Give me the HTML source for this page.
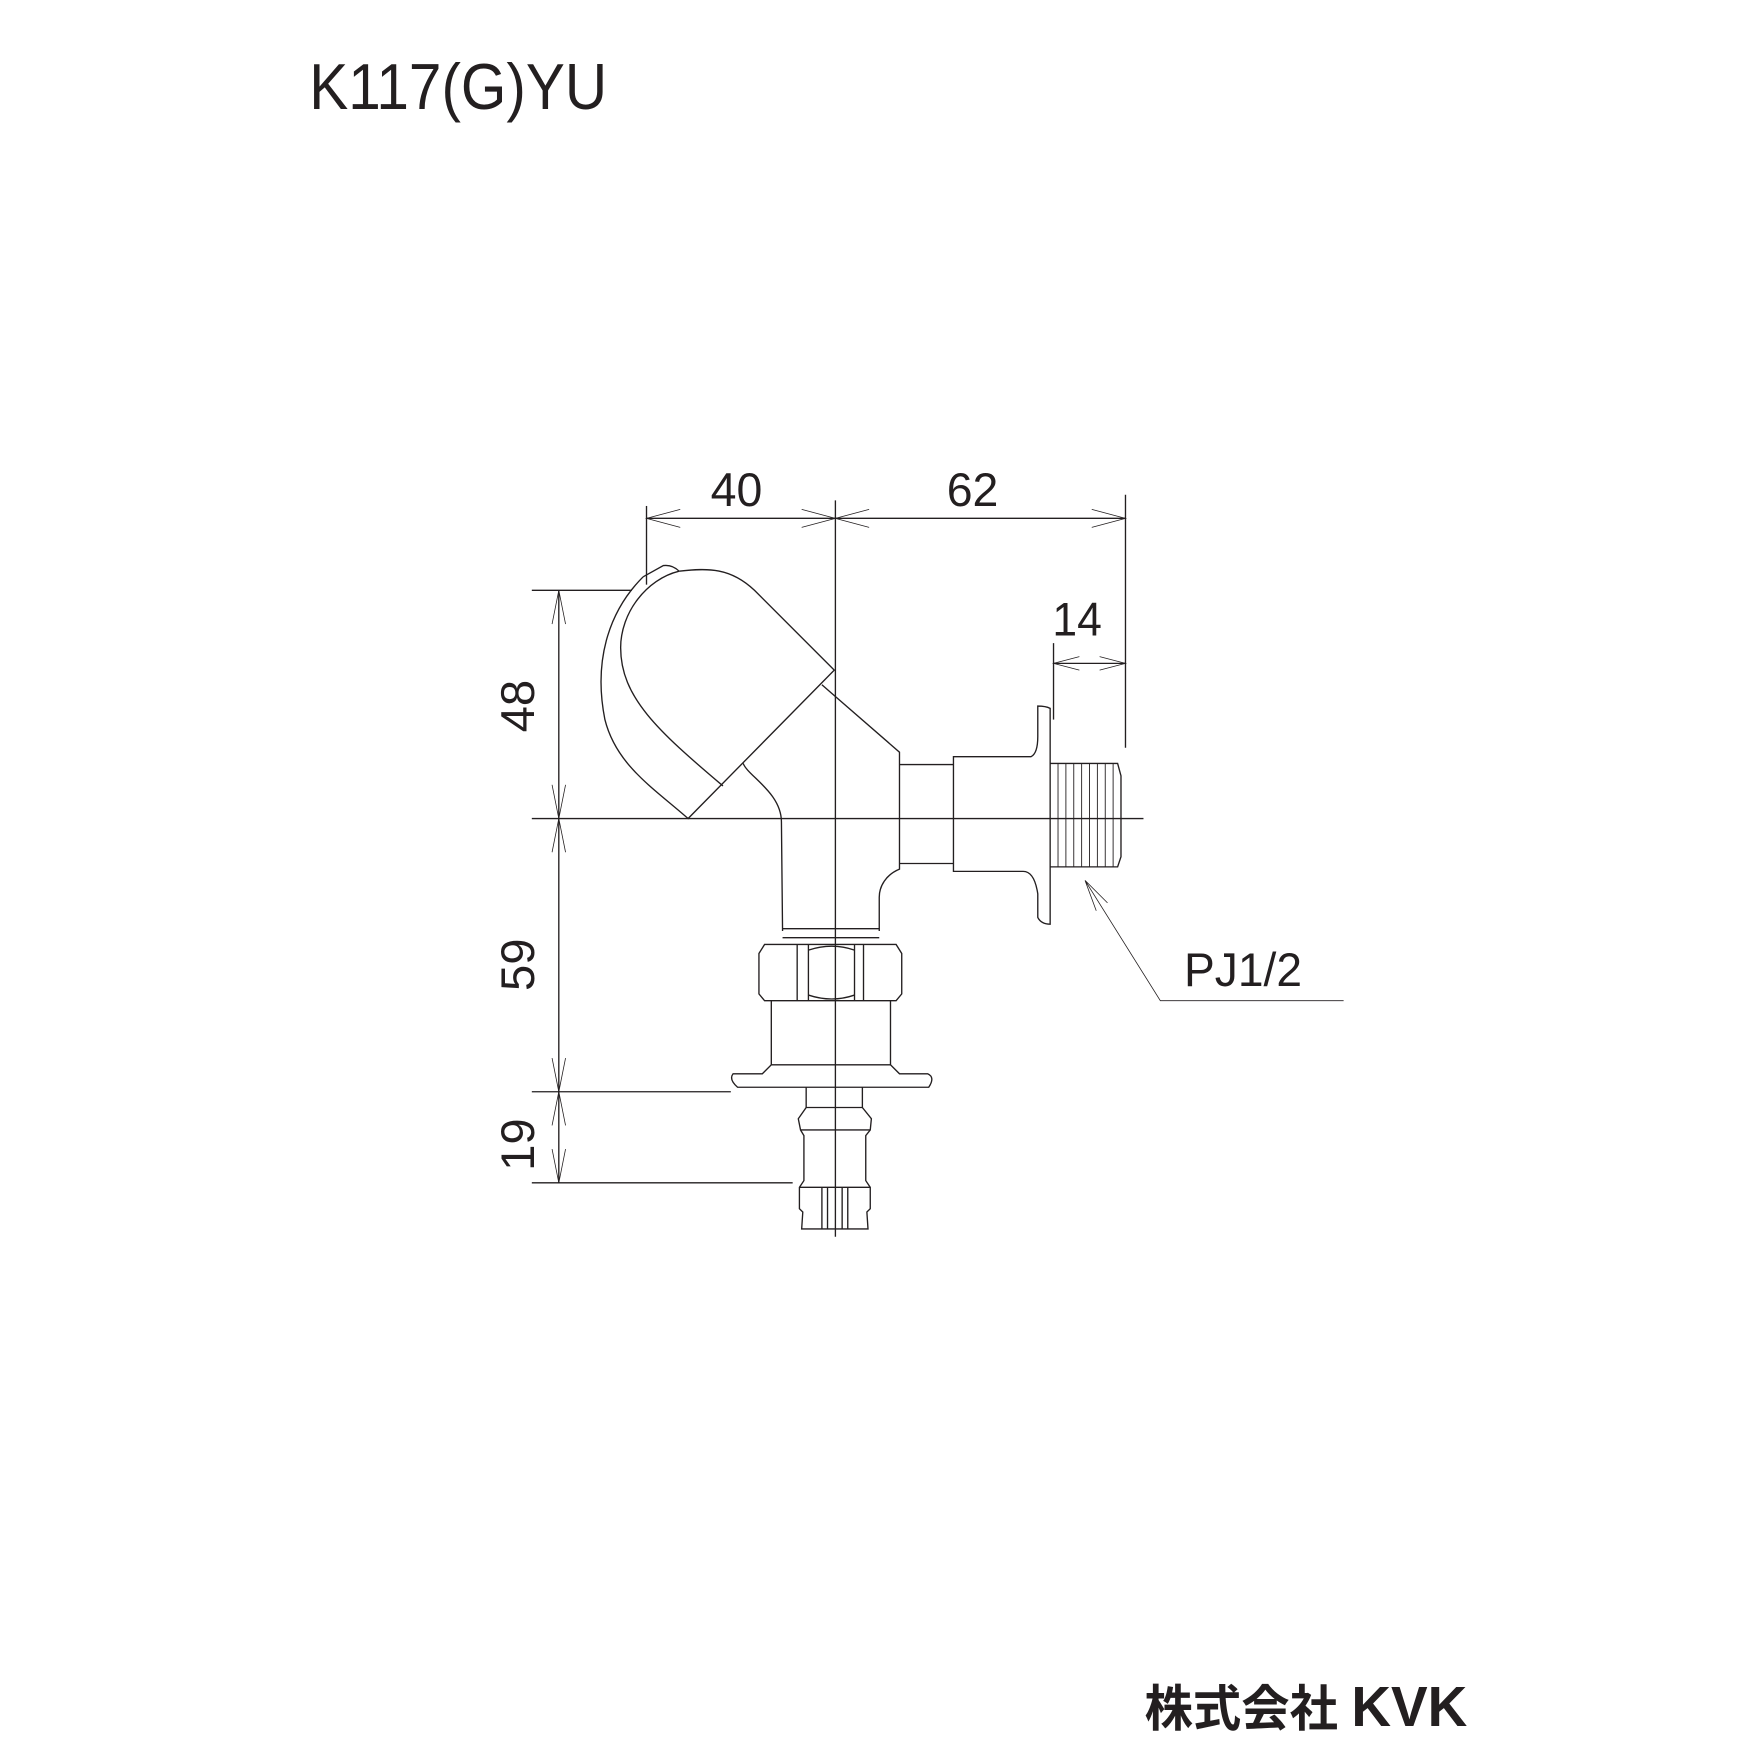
<!DOCTYPE html>
<html><head><meta charset="utf-8"><style>
html,body{margin:0;padding:0;background:#fff}
svg{display:block}
</style></head><body>
<svg width="1754" height="1754" viewBox="0 0 1560 1560" xmlns="http://www.w3.org/2000/svg">
<g font-family="'Liberation Sans', sans-serif" fill="#231f20">
<text x="275" y="97" font-size="58" textLength="265" lengthAdjust="spacingAndGlyphs">K117(G)YU</text>
<text x="632" y="450" font-size="42" textLength="46" lengthAdjust="spacingAndGlyphs">40</text>
<text x="842" y="450" font-size="42" textLength="46" lengthAdjust="spacingAndGlyphs">62</text>
<text x="936" y="565" font-size="42" textLength="44" lengthAdjust="spacingAndGlyphs">14</text>
<text x="1053" y="877" font-size="42" textLength="105" lengthAdjust="spacingAndGlyphs">PJ1/2</text>
<text transform="translate(475,628) rotate(-90)" font-size="42" text-anchor="middle">48</text>
<text transform="translate(475,858) rotate(-90)" font-size="42" text-anchor="middle">59</text>
<text transform="translate(475,1018) rotate(-90)" font-size="42" text-anchor="middle">19</text>
<text x="1018" y="1535" font-size="44" font-weight="bold" font-family="'Liberation Sans','Noto Sans CJK JP',sans-serif" textLength="287" lengthAdjust="spacingAndGlyphs">株式会社 <tspan font-size="50">KVK</tspan></text>
</g>
<g fill="none" stroke="#231f20" stroke-width="1.2">
<line x1="743" y1="445" x2="743" y2="1100"/>
<line x1="473" y1="728" x2="1017" y2="728"/>
<line x1="575" y1="461" x2="1001" y2="461"/>
<line x1="575" y1="450" x2="575" y2="520"/>
<line x1="1001" y1="440" x2="1001" y2="665"/>
<line x1="937" y1="590" x2="1001" y2="590"/>
<line x1="937" y1="572" x2="937" y2="640"/>
<line x1="497" y1="525" x2="497" y2="1052"/>
<line x1="473" y1="525" x2="562" y2="525"/>
<line x1="473" y1="971" x2="650" y2="971"/>
<line x1="473" y1="1052" x2="705" y2="1052"/>
<g stroke-width="0.7">
<path d="M605,453 L575,461 L605,469 M713,453 L743,461 L713,469 M773,453 L743,461 L773,469 M971,453 L1001,461 L971,469"/>
<path d="M960,584 L937,590 L960,596 M978,584 L1001,590 L978,596"/>
<path d="M491,555 L497,525 L503,555 M491,698 L497,728 L503,698 M491,758 L497,728 L503,758 M491,941 L497,971 L503,941 M491,1001 L497,971 L503,1001 M491,1022 L497,1052 L503,1022"/>
<path d="M1195,890 L1032,890 L965,783 M965,783 L975,810 M965,783 L985,803"/>
</g>
<path d="M572,513 L590,503 Q598,502 604,508"/>
<path d="M572,513 C540,545 528,590 538,640 C548,680 580,700 612,728 L742,596 L671,525 C650,505 630,505 604,508"/>
<path d="M604,508 C575,515 552,545 552,576 C552,620 585,650 643,699"/>
<path d="M731,609 L739,616 L800,669 L800,773 C788,778 782,788 782,798 L782,828"/>
<path d="M661,679 C665,690 695,705 695,731 L696,828"/>
<path d="M800,680 L848,680 M800,768 L848,768"/>
<path d="M848,673 L917,673 Q923,670 923,655 L923,628 Q930,628 934,630 L934,822 Q926,822 923,816 L923,795 Q920,775 910,775 L848,775 Z"/>
<path d="M934,679 L994,679 L997,690 L997,762 L994,771 L934,771"/>
<path stroke-width="0.8" d="M941,679V771M948,679V771M955,679V771M962,679V771M969,679V771M976,679V771M983,679V771M990,679V771"/>
<path d="M696,826 L782,826 M696,834 L782,834"/>
<path d="M680,840 L797,840 L802,848 L802,884 L797,890 L680,890 L675,884 L675,848 Z"/>
<path d="M709,840V890M719,840V890M760,840V890M768,840V890"/>
<path d="M719,845 Q740,838 760,845 M719,885 Q740,892 760,885"/>
<path d="M686,890 L686,947 M792,890 L792,947"/>
<path d="M686,947 L792,947 L800,955 L825,955 Q832,958 826,967 L656,967 Q648,960 652,955 L678,955 Z"/>
<path d="M717,967 L717,985 L710,995 L712,1005 L715,1010 L715,1050 L711,1056 L711,1075 L714,1078 L713,1093 L772,1093 L771,1078 L774,1075 L774,1056 L770,1050 L770,1010 L774,1005 L775,995 L767,985 L767,967"/>
<path d="M717,985 L767,985 M712,1005 L774,1005 M711,1056 L774,1056 M731,1056V1093 M736,1056V1093 M749,1056V1093 M754,1056V1093"/>
</g>
</svg>
</body></html>
